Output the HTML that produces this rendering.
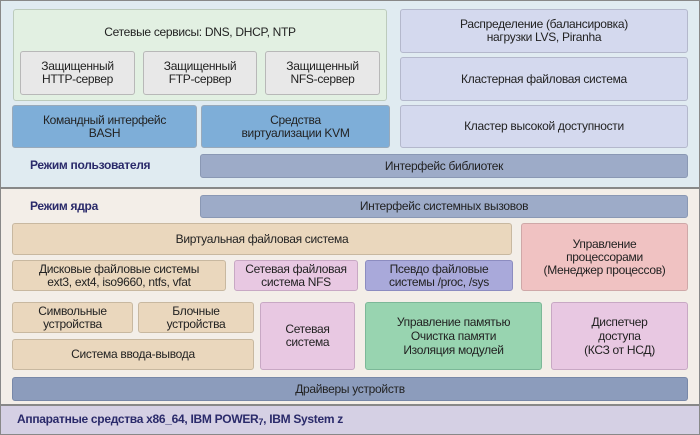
<!DOCTYPE html><html><head><meta charset="utf-8"><style>
body{margin:0;width:700px;height:435px;overflow:hidden;font-family:"Liberation Sans",sans-serif;font-size:12px;color:#222;background:#888}
.a{position:absolute;box-sizing:border-box;display:flex;align-items:center;justify-content:center;text-align:center;border-radius:3px;line-height:13px;letter-spacing:-0.3px}
.t{position:absolute;font-weight:bold;color:#2a2a6a;font-size:12px;letter-spacing:-0.3px}
</style></head><body>
<div style="position:absolute;left:1px;top:1px;width:698px;height:186px;background:#e0ebf1"></div>
<div style="position:absolute;left:1px;top:189px;width:698px;height:215px;background:#f3eee8"></div>
<div style="position:absolute;left:1px;top:406px;width:698px;height:28px;background:#d5d0e4"></div>
<div class="a" style="left:13px;top:9px;width:374px;height:92px;background:#e2f0e2;border:1px solid #bccbbc;align-items:flex-start;padding-top:16px">Сетевые сервисы: DNS, DHCP, NTP</div>
<div class="a" style="left:20px;top:51px;width:115px;height:44px;background:#e8e8e8;border:1px solid #b8b8b8">Защищенный<br>HTTP-сервер</div>
<div class="a" style="left:143px;top:51px;width:114px;height:44px;background:#e8e8e8;border:1px solid #b8b8b8">Защищенный<br>FTP-сервер</div>
<div class="a" style="left:265px;top:51px;width:115px;height:44px;background:#e8e8e8;border:1px solid #b8b8b8">Защищенный<br>NFS-сервер</div>
<div class="a" style="left:12px;top:105px;width:185px;height:43px;background:#7eaed8;border:1px solid #9ab">Командный интерфейс<br>BASH</div>
<div class="a" style="left:201px;top:105px;width:189px;height:43px;background:#7eaed8;border:1px solid #9ab">Средства<br>виртуализации KVM</div>
<div class="a" style="left:400px;top:9px;width:288px;height:44px;background:#d4d9ee;border:1px solid #b4b8cc">Распределение (балансировка)<br>нагрузки LVS, Piranha</div>
<div class="a" style="left:400px;top:57px;width:288px;height:44px;background:#d4d9ee;border:1px solid #b4b8cc">Кластерная файловая система</div>
<div class="a" style="left:400px;top:105px;width:288px;height:43px;background:#d4d9ee;border:1px solid #b4b8cc">Кластер высокой доступности</div>
<div class="t" style="left:30px;top:158px">Режим пользователя</div>
<div class="a" style="left:200px;top:154px;width:488px;height:24px;background:#9dabc8;border:1px solid #8a98b4">Интерфейс библиотек</div>
<div class="t" style="left:30px;top:199px">Режим ядра</div>
<div class="a" style="left:200px;top:195px;width:488px;height:23px;background:#9dabc8;border:1px solid #8a98b4">Интерфейс системных вызовов</div>
<div class="a" style="left:12px;top:223px;width:500px;height:32px;background:#ead7bd;border:1px solid #c8b8a0">Виртуальная файловая система</div>
<div class="a" style="left:521px;top:223px;width:167px;height:68px;background:#f0c2c2;border:1px solid #cfa8a8">Управление<br>процессорами<br>(Менеджер процессов)</div>
<div class="a" style="left:12px;top:260px;width:214px;height:31px;background:#ead7bd;border:1px solid #c8b8a0">Дисковые файловые системы<br>ext3, ext4, iso9660, ntfs, vfat</div>
<div class="a" style="left:234px;top:260px;width:124px;height:31px;background:#e8c8e2;border:1px solid #c8a8c4">Сетевая файловая<br>система NFS</div>
<div class="a" style="left:365px;top:260px;width:148px;height:31px;background:#a9a9da;border:1px solid #8c8cc0">Псевдо файловые<br>системы /proc, /sys</div>
<div class="a" style="left:12px;top:302px;width:121px;height:31px;background:#ead7bd;border:1px solid #c8b8a0">Символьные<br>устройства</div>
<div class="a" style="left:138px;top:302px;width:116px;height:31px;background:#ead7bd;border:1px solid #c8b8a0">Блочные<br>устройства</div>
<div class="a" style="left:12px;top:339px;width:242px;height:31px;background:#ead7bd;border:1px solid #c8b8a0">Система ввода-вывода</div>
<div class="a" style="left:260px;top:302px;width:95px;height:68px;background:#e8c8e2;border:1px solid #c8a8c4">Сетевая<br>система</div>
<div class="a" style="left:365px;top:302px;width:177px;height:68px;background:#98d4b0;border:1px solid #7cb898;line-height:14px">Управление памятью<br>Очистка памяти<br>Изоляция модулей</div>
<div class="a" style="left:551px;top:302px;width:137px;height:68px;background:#e8c8e2;border:1px solid #c8a8c4;line-height:14px">Диспетчер<br>доступа<br>(КСЗ от НСД)</div>
<div class="a" style="left:12px;top:377px;width:676px;height:24px;background:#8c9cbc;border:1px solid #7888a8">Драйверы устройств</div>
<div class="t" style="left:17px;top:412px">Аппаратные средства x86_64, IBM POWER<sub style="font-size:9px;vertical-align:-2px">7</sub>, IBM System z</div>
</body></html>
